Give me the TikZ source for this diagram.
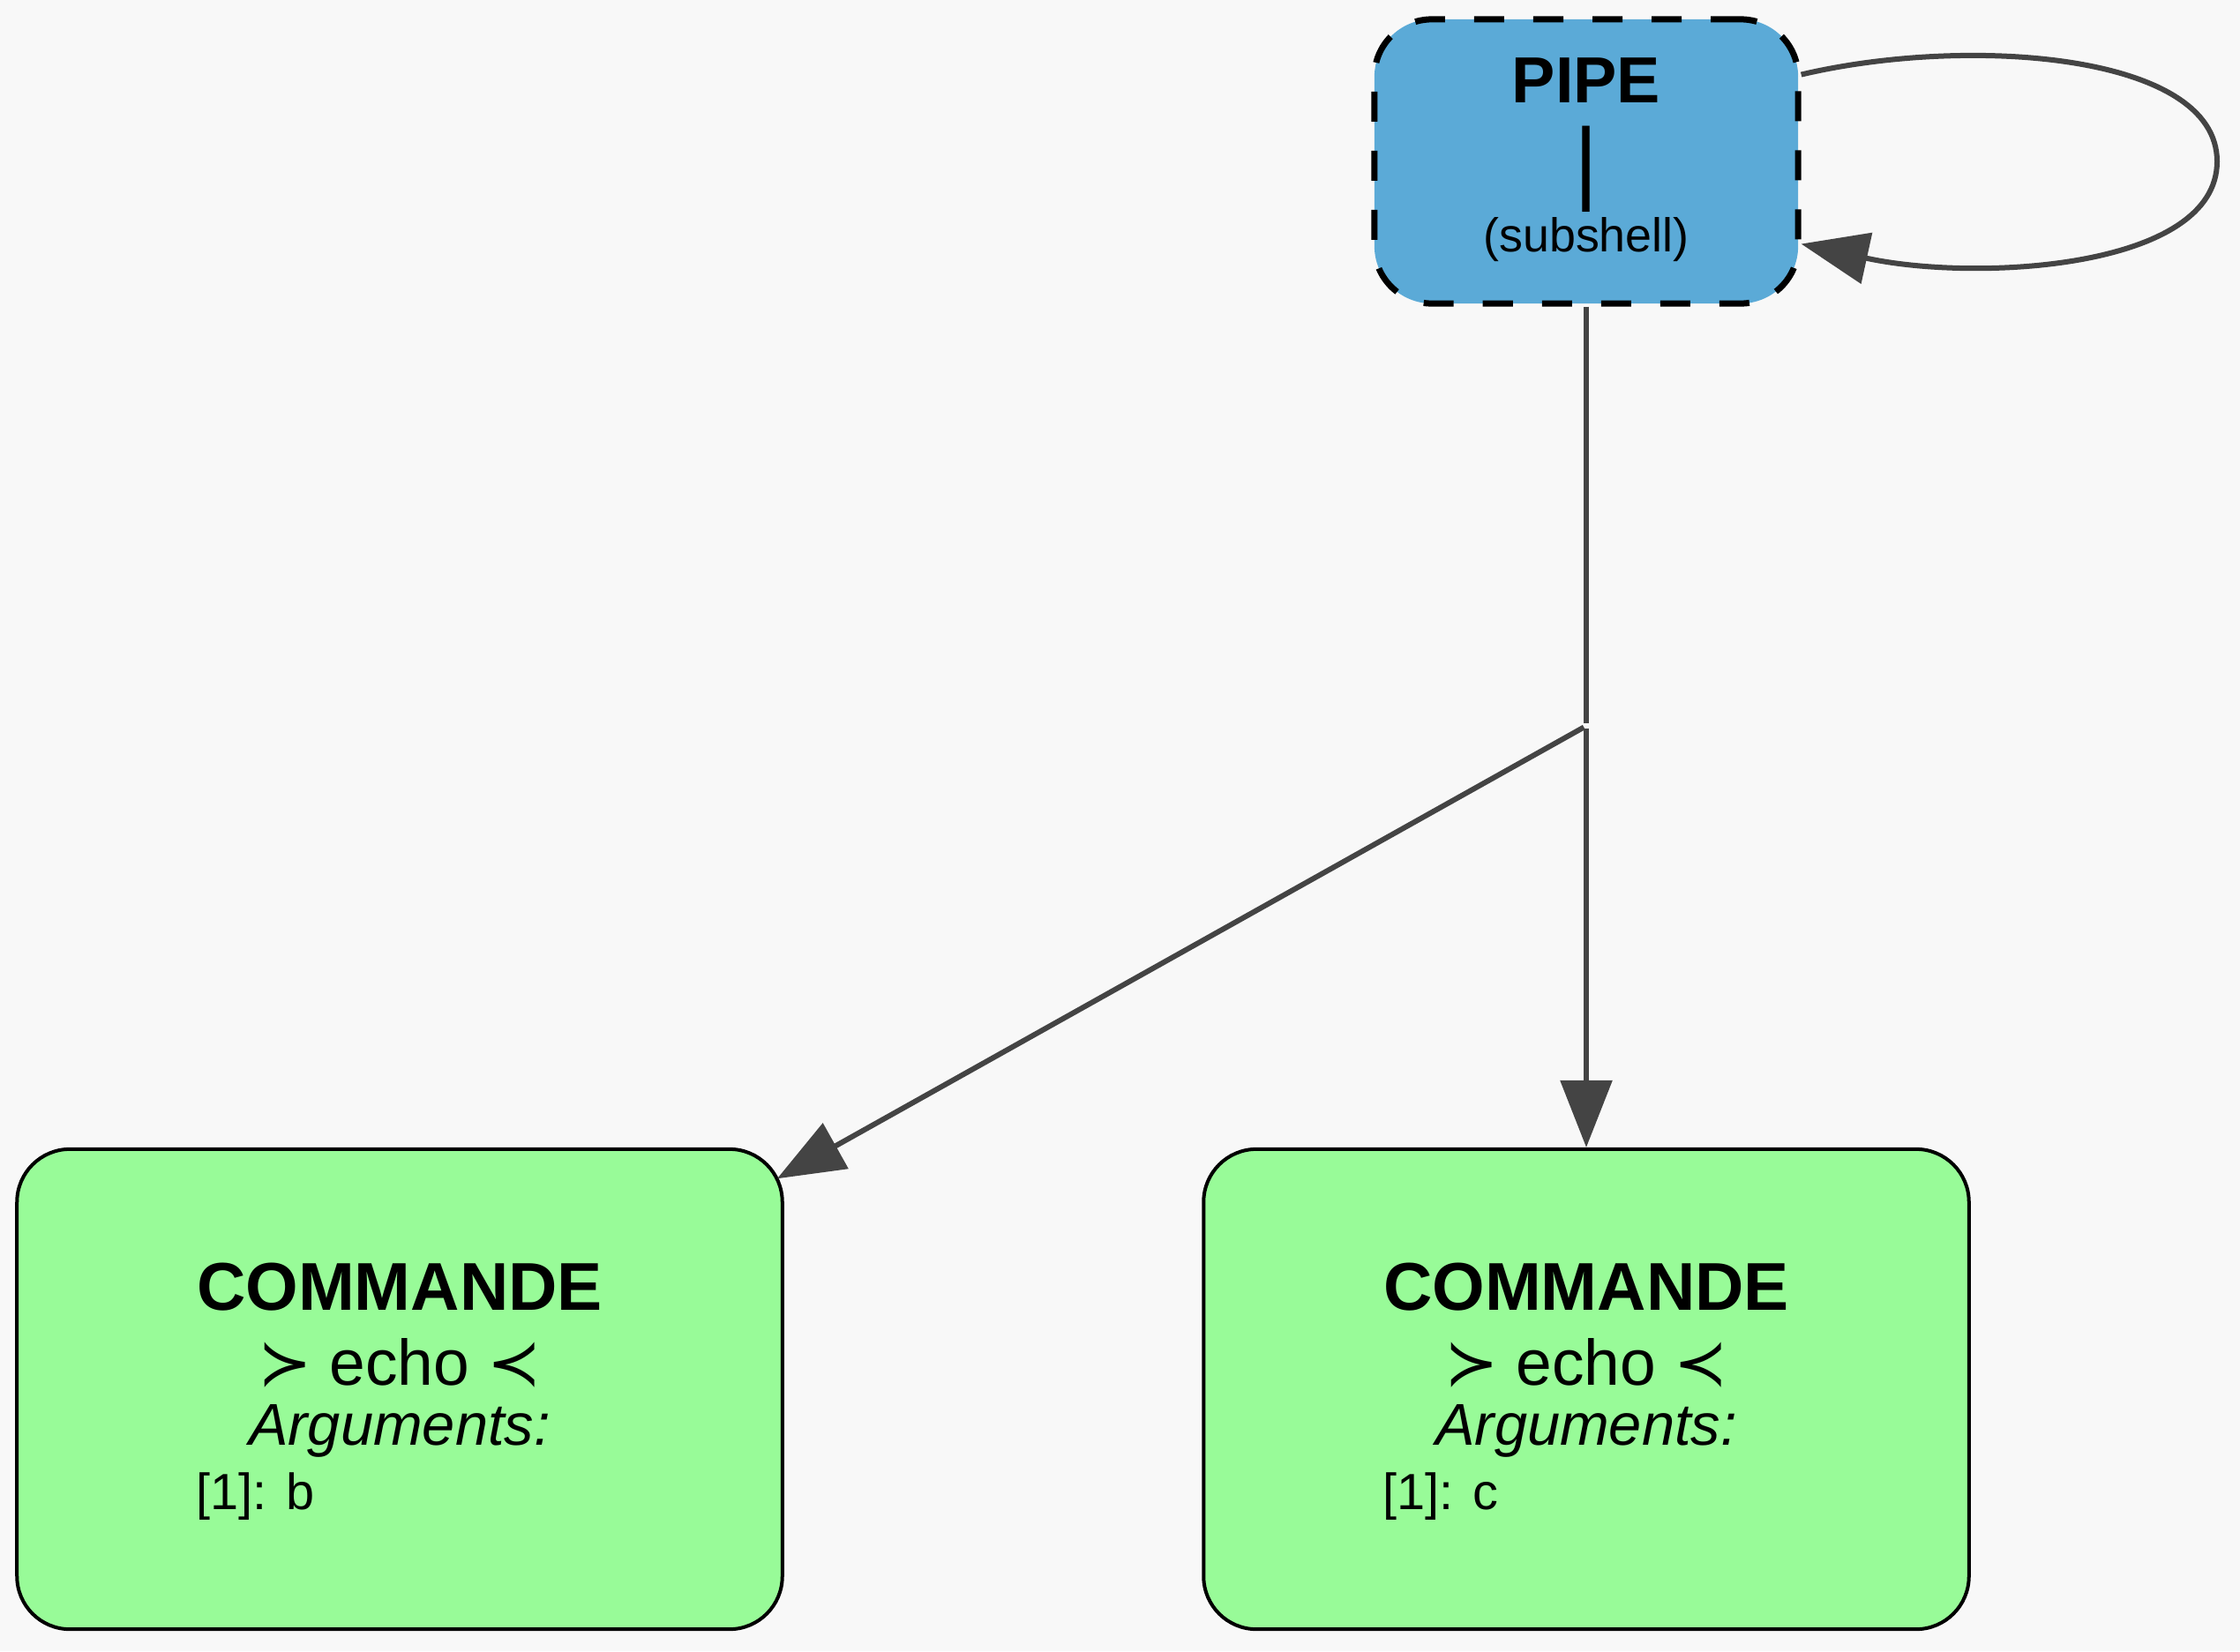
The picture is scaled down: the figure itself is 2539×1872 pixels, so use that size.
\documentclass[tikz,border=0pt]{standalone}
\usepackage{fontspec}
\setmainfont{Liberation Sans}
\newfontfamily\symfont{DejaVu Sans}
\usetikzlibrary{arrows.meta}
\definecolor{bgcol}{HTML}{F8F8F8}
\definecolor{pipeblue}{HTML}{5BAAD7}
\definecolor{cmdgreen}{HTML}{98FB98}
\definecolor{edgegray}{HTML}{444444}

\begin{document}
\begin{tikzpicture}[x=0.01cm,y=-0.01cm,
  pipebox/.style={draw=black,fill=pipeblue,line width=0.07cm,dash pattern=on 0.34cm off 0.33cm,rounded corners=0.65cm,minimum width=4.8cm,minimum height=3.22cm},
  cmdbox/.style={draw=black,fill=cmdgreen,line width=0.04cm,rounded corners=0.6cm,minimum width=8.67cm,minimum height=5.44cm},
  wire/.style={draw=edgegray,line width=0.06cm},
  headarrow/.style={-{Triangle[length=0.76cm,width=0.58cm]}}]
  % fond
  \fill[bgcol] (0,0) rectangle (2539,1872);
  \useasboundingbox (0,0) rectangle (2539,1872);
  % noeud PIPE
  \node[pipebox] (pipe) at (1798,183) {};
  \node[anchor=base,font=\bfseries\fontsize{21}{25}\selectfont] (pipetitle) at (1798,116) {PIPE};
  \node[anchor=base,font=\fontsize{29.6}{34}\selectfont] (pipebar) at (1798,218) {|};
  \node[anchor=base,font=\fontsize{15.3}{18}\selectfont] (pipesub) at (1798,285) {(subshell)};
  % point de jonction
  \node[inner sep=0.02cm] (split) at (1798,823) {};
  % commandes
  \foreach \cx/\arg/\nm in {453/b/cmdb,1798/c/cmdc} {
    \node[cmdbox] (\nm) at (\cx,1575) {};
    \node[anchor=base,font=\bfseries\fontsize{21.8}{26}\selectfont] (\nm title) at (\cx,1485) {COMMANDE};
    \node[anchor=base,font=\fontsize{20.8}{25}\selectfont] (\nm name) at (\cx,1570) {{\symfont ≻} echo {\symfont ≺}};
    \node[anchor=base,font=\itshape\fontsize{19}{23}\selectfont] (\nm argh) at (\cx,1638) {Arguments:};
    \node[anchor=base west,inner sep=0pt,font=\fontsize{16.4}{20}\selectfont] (\nm arg) at (\cx-231,1711) {[1]: \arg};
  }
  % liens
  \draw[wire] (pipe) -- (split);
  \draw[wire,headarrow,shorten >=-0.09cm] (split) -- (cmdb);
  \draw[wire,headarrow] (split) -- (cmdc);
  \draw[wire,headarrow] (pipe.22) .. controls (2230,40) and (2513,60) .. (2513,183)
    .. controls (2513,305) and (2240,320) .. (pipe.-21);
\end{tikzpicture}
\end{document}
